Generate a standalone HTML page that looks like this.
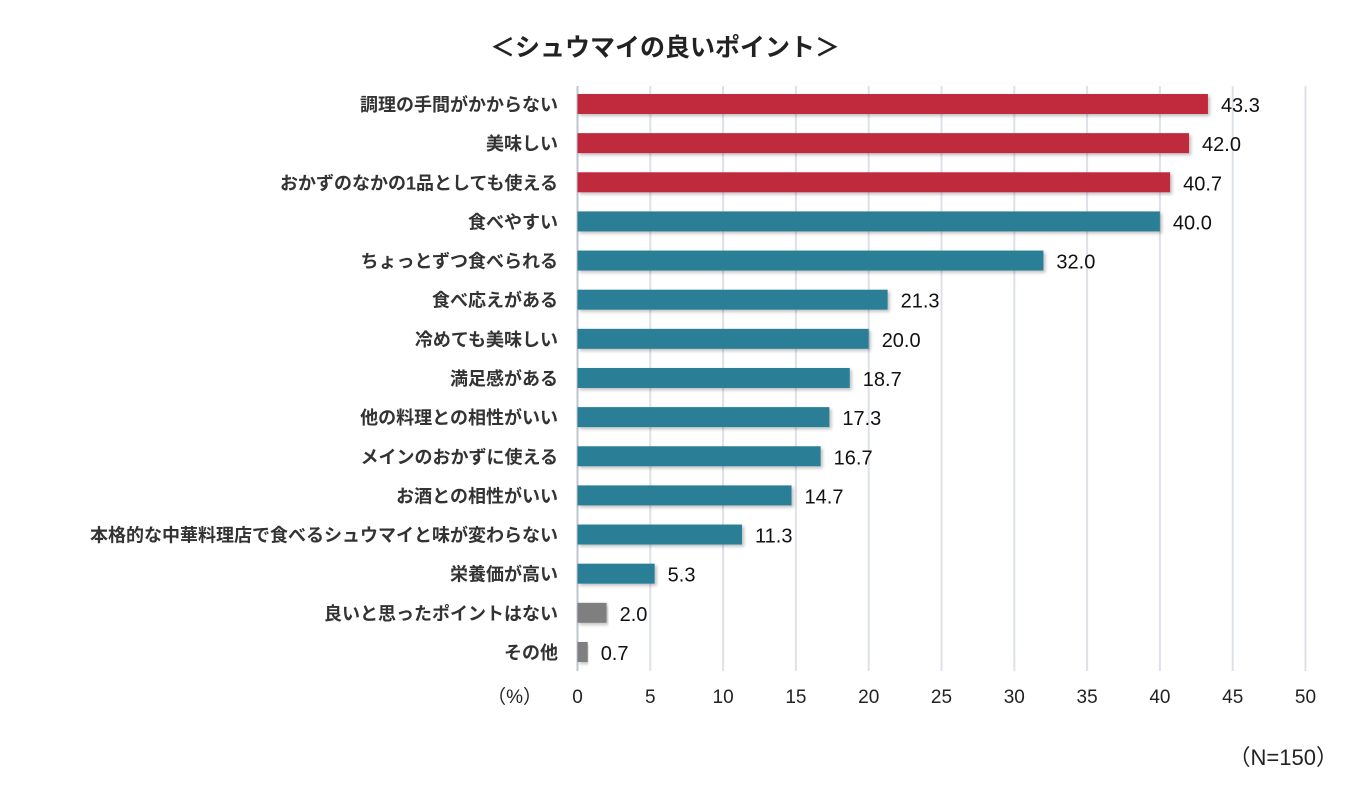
<!DOCTYPE html>
<html><head><meta charset="utf-8"><style>
body{margin:0;background:#fff;width:1359px;height:790px;overflow:hidden;font-family:"Liberation Sans","Noto Sans CJK JP",sans-serif}
</style></head><body>
<svg id="c" width="1359" height="790" xmlns="http://www.w3.org/2000/svg">
<defs><filter id="sh" x="-5%" y="-20%" width="110%" height="160%"><feDropShadow dx="2" dy="2" stdDeviation="1.5" flood-color="#000" flood-opacity="0.25"/></filter></defs>
<text x="665" y="56" text-anchor="middle" font-size="25" font-weight="bold" fill="#222" font-family="Liberation Sans, Noto Sans CJK JP, sans-serif">＜シュウマイの良いポイント＞</text>
<text x="1338" y="765" text-anchor="end" font-size="22" fill="#222" font-family="Liberation Sans, Noto Sans CJK JP, sans-serif">（N=150）</text>
<text x="542" y="703" text-anchor="end" font-size="19" fill="#222" font-family="Liberation Sans, Noto Sans CJK JP, sans-serif">（%）</text>
<g id="grid"></g><g id="bars"></g>
</svg>
<script>
const categories=["調理の手間がかからない","美味しい","おかずのなかの1品としても使える","食べやすい","ちょっとずつ食べられる","食べ応えがある","冷めても美味しい","満足感がある","他の料理との相性がいい","メインのおかずに使える","お酒との相性がいい","本格的な中華料理店で食べるシュウマイと味が変わらない","栄養価が高い","良いと思ったポイントはない","その他"];
const values=[43.3,42.0,40.7,40.0,32.0,21.3,20.0,18.7,17.3,16.7,14.7,11.3,5.3,2.0,0.7];
const groups=["top","top","top","mid","mid","mid","mid","mid","mid","mid","mid","mid","mid","none","none"];
const ticks=[0,5,10,15,20,25,30,35,40,45,50];
const colors={top:"#c0293d",mid:"#2a7f97",none:"#7f7f7f"};
const NS="http://www.w3.org/2000/svg";
const x=v=>577.5+v*14.56;
const y=i=>104+i*39.14;
const grid=document.getElementById('grid'),bars=document.getElementById('bars');
function mk(t,a){const e=document.createElementNS(NS,t);for(const k in a)e.setAttribute(k,a[k]);return e;}
ticks.forEach(t=>{
  const l=mk('line',{x1:x(t),x2:x(t),y1:86,y2:671,stroke:t===0?'#bfc5cf':'#dde1e8','stroke-width':2});
  
  
  grid.appendChild(l);
  const tx=mk('text',{x:x(t),y:703,'text-anchor':'middle','font-size':19,fill:'#222'});
  
  
  tx.textContent=t;grid.appendChild(tx);
});
categories.forEach((c,i)=>{
  const r=mk('rect',{x:x(0),y:y(i)-10,width:x(values[i])-x(0),height:20,fill:colors[groups[i]],filter:'url(#sh)'});
  
  
  bars.appendChild(r);
  const lb=mk('text',{x:558,y:y(i)+7,'text-anchor':'end','font-size':18,'font-weight':'bold',fill:'#333'});
  
  
  lb.textContent=c;bars.appendChild(lb);
  const v=mk('text',{x:x(values[i])+13,y:y(i)+8,'font-size':20,fill:'#111'});
  
  
  v.textContent=values[i].toFixed(1);bars.appendChild(v);
});
</script>
</body></html>
